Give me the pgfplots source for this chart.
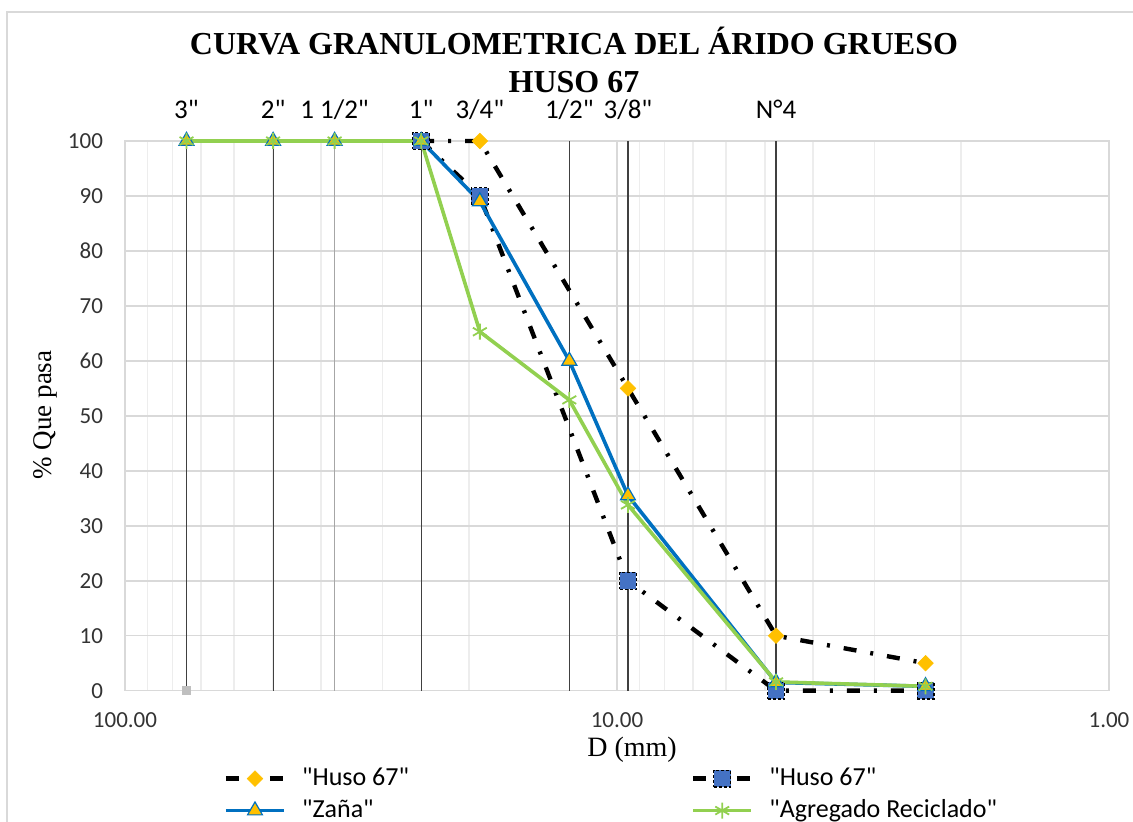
\documentclass[border=0pt]{standalone}
\usepackage{pgfplots}
\pgfplotsset{compat=1.18}
\usepackage{fontspec}
\setmainfont{Liberation Serif}
\newfontfamily\carlito{Carlito}
\definecolor{orng}{HTML}{FFC000}
\definecolor{sqblue}{HTML}{4472C4}
\definecolor{zblue}{HTML}{0070C0}
\definecolor{grn}{HTML}{92D050}
\definecolor{gridc}{HTML}{D9D9D9}
\definecolor{minorc}{HTML}{EDEDED}
\begin{document}
\begin{tikzpicture}[x=1pt,y=1pt]
\path[use as bounding box] (0,0) rectangle (566.5,411);
\draw[gridc, line width=0.75pt] (3.5,0) -- (3.5,405) -- (566.5,405);
\begin{axis}[
  at={(62.5pt,65.65pt)}, anchor=south west,
  scale only axis, width=492pt, height=274.85pt,
  xmode=log, x dir=reverse, xmin=1, xmax=100,
  ymin=0, ymax=100,
  xtick={1,10,100}, xticklabels={1.00,10.00,100.00},
  minor xtick={2,3,4,5,6,7,8,9,20,30,40,50,60,70,80,90},
  ytick={0,10,20,30,40,50,60,70,80,90,100},
  xmajorgrids, xminorgrids, ymajorgrids,
  major grid style={gridc, line width=0.75pt},
  minor grid style={minorc, line width=0.75pt},
  axis line style={gridc, line width=0.75pt},
  major tick length=0pt, minor tick length=0pt,
  tick label style={font=\carlito\fontsize{11.5}{13}\selectfont, text=black!80},
  /pgf/number format/assume math mode=true,
  xticklabel style={yshift=-7.5pt},
  yticklabel style={xshift=-7.5pt},
  clip=false,
  legend columns=2,
  legend cell align=left,
  legend style={at={(axis description cs:0.1,-0.13)}, anchor=north west,
    draw=none, fill=none, inner sep=0pt,
    font=\carlito\fontsize{13}{15}\selectfont,
    nodes={inner ysep=1.25pt, inner xsep=8pt, text height=10pt, text depth=3.5pt},
    /tikz/every even column/.append style={column sep=133pt}},
  legend image code/.code={\draw[mark repeat=2,mark phase=2] plot coordinates {(0pt,0pt) (14.5pt,0pt) (29pt,0pt)};},
]
% sieve reference lines
\addplot[black!75, line width=0.6pt, forget plot] coordinates {(75,0) (75,100)};
\addplot[black!75, line width=0.6pt, forget plot] coordinates {(50,0) (50,100)};
\addplot[gray!70, line width=0.6pt, forget plot] coordinates {(37.5,0) (37.5,100)};
\addplot[black!75, line width=0.6pt, forget plot] coordinates {(25,0) (25,100)};
\addplot[black!75, line width=0.6pt, forget plot] coordinates {(12.5,0) (12.5,100)};
\addplot[black!75, line width=0.6pt, forget plot] coordinates {(9.5,0) (9.5,100)};
\addplot[black!75, line width=0.6pt, forget plot] coordinates {(4.75,0) (4.75,100)};
\addplot[only marks, mark=square*, mark size=2pt, gray!50, forget plot] coordinates {(75,0)};
% Huso 67 upper
\addplot[black, line width=2.2pt, dash pattern=on 6.5pt off 7pt on 1.5pt off 7pt,
  mark=square*, mark size=2.75pt,
  mark options={solid, fill=orng, draw=orng, rotate=45, line width=0.3pt}]
  coordinates {(25,100) (19,100) (9.5,55) (4.75,10) (2.36,5)};
% Huso 67 lower
\addplot[black, line width=2.2pt, dash pattern=on 6.5pt off 7pt on 1.5pt off 7pt,
  mark=square*, mark size=4.2pt,
  mark options={fill=sqblue, draw=black, line width=0.6pt, dash pattern=on 1.5pt off 1pt}]
  coordinates {(25,100) (19,90) (9.5,20) (4.75,0) (2.36,0)};
% Zana
\addplot[zblue, line width=1.8pt, mark=triangle*, mark size=4.3pt,
  mark options={solid, fill=orng, draw=zblue, line width=0.6pt}]
  coordinates {(75,100) (50,100) (37.5,100) (25,100) (19,89) (12.5,60) (9.5,35.5) (4.75,1.5) (2.36,0.8)};
% Agregado reciclado
\addplot[grn, line width=1.8pt, mark=asterisk, mark size=4pt,
  mark options={solid, grn, line width=0.9pt}]
  coordinates {(75,100) (50,100) (37.5,100) (25,100) (19,65.3) (12.5,52.9) (9.5,33.8) (4.75,1.6) (2.36,0.8)};
\legend{"Huso 67","Huso 67","Zaña","Agregado Reciclado"}
% sieve labels
\begin{scope}[every node/.style={anchor=base, font=\carlito\fontsize{13.5}{15}\selectfont, yshift=11pt}]
\node at (axis cs:75,100) {3"};
\node at (axis cs:50,100) {2"};
\node at (axis cs:37.5,100) {1 1/2"};
\node at (axis cs:25,100) {1"};
\node at (axis cs:19,100) {3/4"};
\node at (axis cs:12.5,100) {1/2"};
\node at (axis cs:9.5,100) {3/8"};
\node at (axis cs:4.75,100) {N°4};
\end{scope}
\end{axis}
\node[anchor=base, font=\bfseries\fontsize{16}{18}\selectfont] at (287,383.5) {CURVA GRANULOMETRICA DEL ÁRIDO GRUESO};
\node[anchor=base, font=\bfseries\fontsize{16}{18}\selectfont] at (287,364.5) {HUSO 67};
\node[rotate=90, font=\fontsize{13.5}{16}\selectfont] at (22.5,203.5) {\% Que pasa};
\node[anchor=base, font=\fontsize{14}{16}\selectfont] at (316,32.5) {D (mm)};
\end{tikzpicture}
\end{document}
